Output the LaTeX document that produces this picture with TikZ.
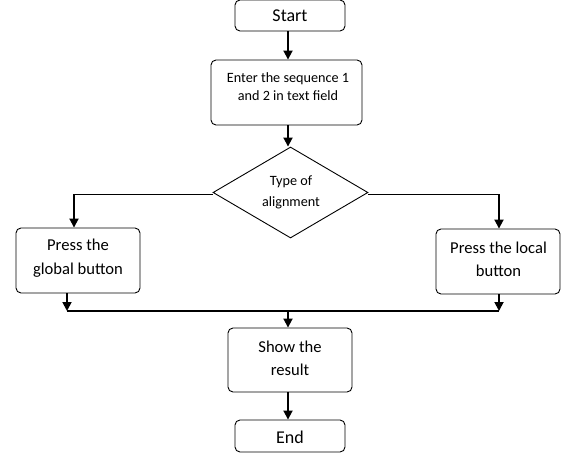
\documentclass[tikz,border=0pt]{standalone}
\usepackage{fontspec}
\setmainfont{Carlito}
\usetikzlibrary{shapes.geometric,arrows.meta}
\begin{document}
\begin{tikzpicture}[x=1pt,y=-1pt,
  box/.style={draw, line width=0.9pt, rounded corners=5pt, inner sep=0pt},
  txt/.style={align=center, inner sep=0pt},
  arr/.style={line width=1.8pt, -{Triangle[length=9pt,width=9pt]}},
  ln/.style={line width=1.8pt},
  big/.style={font=\fontsize{18}{22}\selectfont},
  mid/.style={font=\fontsize{16.6}{24}\selectfont},
  sml/.style={font=\fontsize{14.2}{19}\selectfont}]
\useasboundingbox (0,0) rectangle (565,455);
% boxes
\node[box, minimum width=110pt, minimum height=31pt] (start) at (290,15.5) {};
\node[txt, big] (starttxt) at (290,16) {Start};
\node[box, minimum width=151pt, minimum height=65pt] (enter) at (286.5,92.5) {};
\node[txt, sml, font=\fontsize{14.2}{18.5}\selectfont] (entertxt) at (288,86.5) {Enter the sequence 1\\and 2 in text field};
\node[draw, line width=0.9pt, diamond, inner sep=0pt, minimum width=155pt, minimum height=91pt] (dec) at (290.5,192.5) {};
\node[txt, sml, font=\fontsize{14.2}{21}\selectfont] (dectxt) at (291,192.5) {Type of\\alignment};
\node[box, minimum width=124pt, minimum height=65pt] (glob) at (78,260.5) {};
\node[txt, mid] (globtxt) at (78,258) {Press the\\global button};
\node[box, minimum width=124pt, minimum height=65pt] (loc) at (498,261.5) {};
\node[txt, mid, font=\fontsize{16.6}{23}\selectfont] (loctxt) at (498.5,259.5) {Press the local\\button};
\node[box, minimum width=124pt, minimum height=64pt] (show) at (290,360) {};
\node[txt, mid, font=\fontsize{16.6}{23}\selectfont] (showtxt) at (290,358.5) {Show the\\result};
\node[box, minimum width=110pt, minimum height=32pt] (end) at (290,436) {};
\node[txt, big] (endtxt) at (290,437) {End};
% junction coordinates
\coordinate (jl) at (67,311);
\coordinate (jr) at (499,311);
\coordinate (jm) at (288,311);
% connectors
\draw[arr] ([xshift=-2pt]start.south) -- ([xshift=-2pt]start.south |- enter.north);
\draw[arr] ([xshift=1.5pt]enter.south) -- ([xshift=1.5pt]enter.south |- dec.north);
\draw[arr] ([yshift=-2pt]dec.west) -| ([xshift=-4pt]glob.north);
\draw[arr] ([yshift=-2pt]dec.east) -| ([xshift=1pt]loc.north);
\draw[arr] (glob.south -| jl) -- (jl);
\draw[arr] (loc.south -| jr) -- (jr);
\draw[ln] (jl) -- (jr);
\draw[arr] (jm) -- (jm |- show.north);
\draw[arr] ([xshift=-2pt]show.south) -- ([xshift=-2pt]show.south |- end.north);
\end{tikzpicture}
\end{document}
